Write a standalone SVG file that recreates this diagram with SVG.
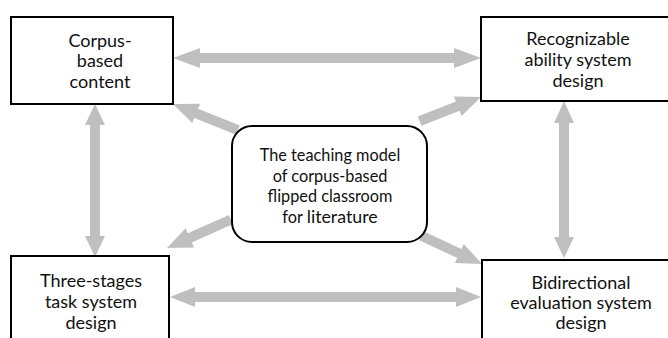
<svg xmlns="http://www.w3.org/2000/svg" width="668" height="338" viewBox="0 0 668 338">
<style>
.box{fill:#fff;stroke:#000;stroke-width:2}
.arr{fill:#BFBFBF;stroke:none}
text{font-family:Lato,"Liberation Sans",sans-serif;fill:#111;text-anchor:middle}
.t{font-size:18px}
.c{font-size:16.3px}
</style>
<rect width="668" height="338" fill="#fff"/>
<g id="connectors">
<polygon class="arr" points="173,58 200,48 200,53 454,53 454,48 481,58 454,68 454,63 200,63 200,68"/>
<polygon class="arr" points="170,297 195,287 195,292 456,292 456,287 481,297 456,307 456,302 195,302 195,307"/>
<polygon class="arr" points="95,104 105,125 100,125 100,236 105,236 95,257 85,236 90,236 90,125 85,125"/>
<polygon class="arr" points="564,101 574,123 569,123 569,237 574,237 564,258 554,237 559,237 559,123 554,123"/>
<polygon class="arr" transform="translate(173,104) rotate(202)" points="0,0 -25,-10.5 -25,-5 -70,-5 -70,5 -25,5 -25,10.5"/>
<polygon class="arr" transform="translate(481,97) rotate(-21.5)" points="0,0 -25,-10.5 -25,-5 -66,-5 -66,5 -25,5 -25,10.5"/>
<polygon class="arr" transform="translate(167,248) rotate(156)" points="0,0 -25,-10.5 -25,-5 -70,-5 -70,5 -25,5 -25,10.5"/>
<polygon class="arr" transform="translate(482,264) rotate(25)" points="0,0 -25,-10.5 -25,-5 -67,-5 -67,5 -25,5 -25,10.5"/>
</g>
<g id="corpus">
<rect class="box" x="11" y="17" width="162" height="87"/>
<text class="t" x="100" y="47">Corpus-</text>
<text class="t" x="100" y="67">based</text>
<text class="t" x="100" y="88">content</text>
</g>
<g id="recognizable">
<rect class="box" x="481" y="17" width="200" height="84"/>
<text class="t" x="578" y="45">Recognizable</text>
<text class="t" x="578" y="66">ability system</text>
<text class="t" x="578" y="87">design</text>
</g>
<g id="threestages">
<rect class="box" x="11" y="256" width="158" height="100"/>
<text class="t" x="91" y="287">Three-stages</text>
<text class="t" x="91" y="308">task system</text>
<text class="t" x="91" y="329">design</text>
</g>
<g id="bidirectional">
<rect class="box" x="482" y="260" width="200" height="100"/>
<text class="t" x="581" y="289">Bidirectional</text>
<text class="t" x="581" y="309">evaluation system</text>
<text class="t" x="581" y="329">design</text>
</g>
<g id="center">
<rect class="box" x="232" y="126" width="195" height="116" rx="20" ry="20"/>
<text class="c" x="330" y="161">The teaching model</text>
<text class="c" x="330" y="182">of corpus-based</text>
<text class="c" x="330" y="202">flipped classroom</text>
<text class="c" x="330" y="223">for <tspan font-size="17.8px">literature</tspan></text>
</g>
</svg>
